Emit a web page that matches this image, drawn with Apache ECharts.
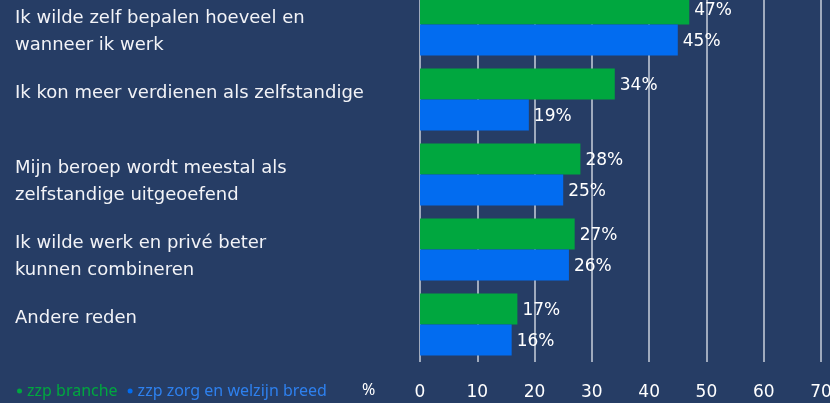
<!DOCTYPE html>
<html>
<head>
<meta charset="utf-8">
<script src="https://cdn.jsdelivr.net/npm/echarts@6/dist/echarts.min.js"></script>
<style>
  html, body { margin: 0; padding: 0; background: #263d65; }
  #chart { width: 830px; height: 403px; }
</style>
</head>
<body>
<div id="chart"></div>
<script>
var categories = [
  "Ik wilde zelf bepalen hoeveel en\nwanneer ik werk",
  "Ik kon meer verdienen als zelfstandige",
  "Mijn beroep wordt meestal als\nzelfstandige uitgeoefend",
  "Ik wilde werk en privé beter\nkunnen combineren",
  "Andere reden"
];
var branche = [47, 34, 28, 27, 17];
var breed = [45, 19, 25, 26, 16];
var seriesNames = ["zzp branche", "zzp zorg en welzijn breed"];

var GREEN = "#00a73f";
var BLUE = "#026cf0";
var FONT = "DejaVu Sans";

var myChart = echarts.init(document.getElementById("chart"), null, { renderer: "canvas" });

var option = {
  backgroundColor: "#263d65",
  animation: false,
  grid: { left: 420, right: 9, top: -13, bottom: 41, outerBoundsMode: "none", containLabel: false },
  legend: {
    left: 12,
    top: 378,
    icon: "circle",
    itemWidth: 5,
    itemHeight: 5,
    itemGap: 10,
    selectedMode: false,
    data: [
      { name: seriesNames[0], textStyle: { color: GREEN } },
      { name: seriesNames[1], textStyle: { color: "#2e80ee" } }
    ],
    textStyle: { fontFamily: "Noto Sans", fontSize: 16 }
  },
  graphic: [{
    type: "text",
    left: 362,
    top: 382,
    style: { text: "%", fill: "#ffffff", font: "16px Noto Sans" }
  }],
  xAxis: {
    type: "value",
    min: 0,
    max: 70,
    interval: 10,
    axisLine: { show: false },
    axisTick: { show: false },
    splitLine: { show: true, lineStyle: { color: "#c9cfdb", width: 1.5 } },
    axisLabel: { color: "#ffffff", fontFamily: FONT, fontSize: 17, margin: 22 }
  },
  yAxis: {
    type: "category",
    data: categories,
    inverse: true,
    axisLine: { show: false },
    axisTick: { show: false },
    axisLabel: {
      align: "left",
      verticalAlign: "top",
      margin: 405,
      color: "#f2f3f7",
      fontFamily: FONT,
      fontSize: 18,
      lineHeight: 27,
      padding: [-20, 0, 0, 0]
    }
  },
  series: [
    {
      name: seriesNames[0],
      type: "bar",
      data: branche,
      barWidth: 31,
      barGap: "0%",
      itemStyle: { color: GREEN },
      label: {
        show: true, position: "right", distance: 5, offset: [0, 2], formatter: "{c}%",
        color: "#ffffff", fontFamily: "DejaVu Sans", fontSize: 17
      }
    },
    {
      name: seriesNames[1],
      type: "bar",
      data: breed,
      barWidth: 31,
      barGap: "0%",
      itemStyle: { color: BLUE },
      label: {
        show: true, position: "right", distance: 5, offset: [0, 2], formatter: "{c}%",
        color: "#ffffff", fontFamily: "DejaVu Sans", fontSize: 17
      }
    }
  ]
};

myChart.setOption(option);
</script>
</body>
</html>
